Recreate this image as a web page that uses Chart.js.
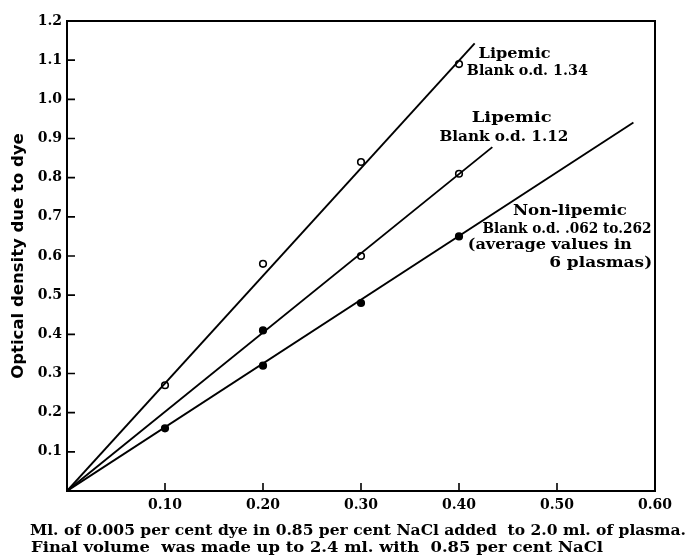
<!DOCTYPE html>
<html>
<head>
<meta charset="utf-8">
<script src="https://cdn.jsdelivr.net/npm/chart.js@4.4.1/dist/chart.umd.min.js"></script>
<style>
  html, body { margin: 0; padding: 0; background: #fff; }
  #wrap { width: 691px; height: 560px; }
</style>
</head>
<body>
<div id="wrap"><canvas id="myChart"></canvas></div>
<script>
// tick labels of both axes
const xTicks = [0.10, 0.20, 0.30, 0.40, 0.50, 0.60];
const yTicks = [0.1, 0.2, 0.3, 0.4, 0.5, 0.6, 0.7, 0.8, 0.9, 1.0, 1.1, 1.2];

// measured points (ml of dye, optical density), filled = solid dot
const lip134X = [0.10, 0.20, 0.30, 0.40];
const lip134Y = [0.27, 0.58, 0.84, 1.09];
const lip134Filled = [false, false, false, false];

const lip112X = [0.20, 0.30, 0.40];
const lip112Y = [0.41, 0.60, 0.81];
const lip112Filled = [true, false, false];

const nonLipX = [0.10, 0.20, 0.30, 0.40];
const nonLipY = [0.16, 0.32, 0.48, 0.65];
const nonLipFilled = [true, true, true, true];

// straight lines drawn through the origin (start x, end x / start y, end y)
const lip134LineX = [0, 0.416];
const lip134LineY = [0, 1.143];
const lip112LineX = [0, 0.434];
const lip112LineY = [0, 0.878];
const nonLipLineX = [0, 0.578];
const nonLipLineY = [0, 0.941];

// labels written next to the lines
const labelTexts = [
  'Lipemic', 'Blank o.d. 1.34',
  'Lipemic', 'Blank o.d. 1.12',
  'Non-lipemic', 'Blank o.d. .062 to.262', '(average values in', '6 plasmas)'
];
const labelX = [0.420, 0.408, 0.413, 0.380, 0.455, 0.424, 0.409, 0.492];
const labelY = [1.115, 1.071, 0.952, 0.903, 0.714, 0.668, 0.628, 0.582];
const labelWidths = [72, 121, 80, 129, 114, 169, 164, 103];

const xTitle = [
  'Ml. of 0.005 per cent dye in 0.85 per cent NaCl added  to 2.0 ml. of plasma.',
  'Final volume  was made up to 2.4 ml. with  0.85 per cent NaCl'
];
const xTitleWidths = [656, 572];
const yTitle = 'Optical density due to dye';

const serif = '"DejaVu Serif", "Liberation Serif", serif';

function toPoints(xs, ys) {
  return xs.map((x, i) => ({ x: x, y: ys[i] }));
}

function lineSet(xs, ys) {
  return {
    type: 'line',
    data: toPoints(xs, ys),
    borderColor: '#000',
    borderWidth: 1.9,
    pointRadius: 0,
    fill: false,
    tension: 0
  };
}

function pointSet(xs, ys, filled) {
  return {
    type: 'scatter',
    data: toPoints(xs, ys),
    pointStyle: 'circle',
    pointRadius: 3.3,
    pointBorderWidth: 1.6,
    pointBorderColor: '#000',
    pointBackgroundColor: filled.map(f => f ? '#000' : '#fff')
  };
}

// draw text squeezed or stretched to a given width
function fitText(ctx, text, x, y, width) {
  const w = ctx.measureText(text).width;
  ctx.save();
  ctx.translate(x, y);
  ctx.scale(width / w, 1);
  ctx.fillText(text, 0, 0);
  ctx.restore();
}

// frame, inward ticks, line labels and the two-line caption
const decorations = {
  id: 'decorations',
  afterDraw(chart) {
    const ctx = chart.ctx;
    const area = chart.chartArea;
    const xs = chart.scales.x;
    const ys = chart.scales.y;

    ctx.save();
    ctx.strokeStyle = '#000';
    ctx.lineWidth = 2;
    ctx.strokeRect(area.left, area.top, area.right - area.left, area.bottom - area.top);

    ctx.lineWidth = 1.6;
    ctx.beginPath();
    xTicks.forEach(v => {
      const px = xs.getPixelForValue(v);
      ctx.moveTo(px, area.bottom);
      ctx.lineTo(px, area.bottom - 8);
    });
    yTicks.forEach(v => {
      const py = ys.getPixelForValue(v);
      ctx.moveTo(area.left, py);
      ctx.lineTo(area.left + 8, py);
    });
    ctx.stroke();

    ctx.fillStyle = '#000';
    ctx.textBaseline = 'middle';
    ctx.textAlign = 'left';
    ctx.font = 'bold 14.5px ' + serif;
    labelTexts.forEach((t, i) => {
      fitText(ctx, t, xs.getPixelForValue(labelX[i]), ys.getPixelForValue(labelY[i]), labelWidths[i]);
    });

    ctx.font = 'bold 15px ' + serif;
    fitText(ctx, xTitle[0], 30, 531, xTitleWidths[0]);
    fitText(ctx, xTitle[1], 31, 548, xTitleWidths[1]);
    ctx.restore();
  }
};

Chart.defaults.color = '#000';

const ctx = document.getElementById('myChart');

new Chart(ctx, {
  data: {
    datasets: [
      lineSet(lip134LineX, lip134LineY),
      lineSet(lip112LineX, lip112LineY),
      lineSet(nonLipLineX, nonLipLineY),
      pointSet(lip134X, lip134Y, lip134Filled),
      pointSet(lip112X, lip112Y, lip112Filled),
      pointSet(nonLipX, nonLipY, nonLipFilled)
    ]
  },
  options: {
    responsive: true,
    maintainAspectRatio: false,
    animation: false,
    layout: {
      padding: { left: 0, top: 21, right: 36, bottom: 0 }
    },
    plugins: {
      legend: { display: false },
      tooltip: { enabled: false }
    },
    scales: {
      x: {
        type: 'linear',
        min: 0,
        max: 0.6,
        afterFit(scale) { scale.height = 69; },
        afterBuildTicks(scale) { scale.ticks = xTicks.map(v => ({ value: v })); },
        grid: { display: false, drawTicks: false },
        border: { display: false },
        ticks: {
          padding: 6,
          maxRotation: 0,
          autoSkip: false,
          font: { family: serif, size: 14, weight: 'bold' },
          callback: v => v.toFixed(2)
        }
      },
      y: {
        type: 'linear',
        min: 0,
        max: 1.2,
        afterFit(scale) { scale.width = 67; },
        afterBuildTicks(scale) { scale.ticks = yTicks.map(v => ({ value: v })); },
        grid: { display: false, drawTicks: false },
        border: { display: false },
        ticks: {
          padding: 5,
          autoSkip: false,
          font: { family: serif, size: 14, weight: 'bold' },
          callback: v => v.toFixed(1)
        },
        title: {
          display: true,
          text: yTitle,
          padding: { top: 9, bottom: 0 },
          font: { family: '"DejaVu Sans", sans-serif', size: 16.5, weight: 'bold' }
        }
      }
    }
  },
  plugins: [decorations]
});
</script>
</body>
</html>
